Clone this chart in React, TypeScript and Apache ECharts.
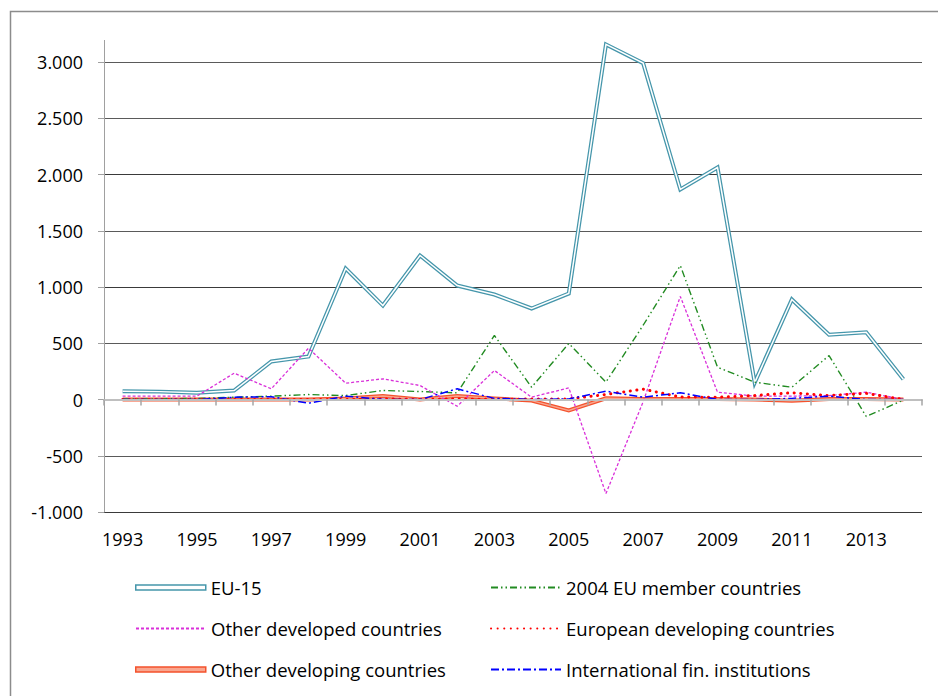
import React, { useEffect, useRef } from 'react';
import * as echarts from 'echarts';

const years = ['1993','1994','1995','1996','1997','1998','1999','2000','2001','2002','2003','2004','2005','2006','2007','2008','2009','2010','2011','2012','2013','2014'];
const eu15 = [74, 70, 60, 80, 338, 382, 1164, 835, 1280, 1013, 933, 809, 942, 3156, 2990, 1867, 2062, 150, 889, 575, 598, 180];
const eu2004 = [5, 5, 10, 20, 30, 44, 35, 80, 71, 59, 569, 109, 498, 154, 660, 1191, 287, 154, 109, 391, -151, -5];
const otherDeveloped = [30, 30, 30, 234, 95, 456, 145, 184, 124, -60, 258, 20, 104, -836, -20, 916, 65, 30, 30, 35, 65, 0];
const europeanDeveloping = [0, 0, 0, 0, 0, 0, 0, 5, 0, 5, 0, 5, 5, 45, 92, 22, 20, 35, 60, 35, 55, 0];
const otherDeveloping = [0, 0, 0, 0, 0, 0, 10, 30, 0, 30, 10, -10, -98, 10, 5, 5, 5, 0, -10, 5, 5, 0];
const intlFin = [0, 0, 0, 20, 25, -33, 30, 0, 0, 95, 10, 0, 5, 74, 20, 60, 0, 0, 10, 30, 0, 0];
const yTicks = { min: -1000, max: 3000, interval: 500 };

const FONT = '"Open Sans", sans-serif';
const FS = 18;
const LFS = 18.5;

function fmt(v: number): string {
  const s = Math.abs(v).toString().replace(/\B(?=(\d{3})+(?!\d))/g, '.');
  return (v < 0 ? '-' : '') + s;
}

const hiddenSymbol = { opacity: 0, color: 'rgba(0,0,0,0)', borderWidth: 0 };

function legendAt(item: any, left: number, top: number, itemHeight = 14) {
  return {
    show: true,
    left,
    top,
    padding: 0,
    orient: 'horizontal',
    itemWidth: 70,
    itemHeight,
    itemGap: 0,
    selectedMode: false,
    textStyle: { fontFamily: FONT, fontSize: LFS, color: '#000' },
    data: [item],
  };
}

export default function App() {
  const ref = useRef<HTMLDivElement>(null);
  useEffect(() => {
    const chart = echarts.init(ref.current as HTMLDivElement, null, { renderer: 'svg' });
    const teal = '#4596ab';
    const orange = '#f4522d';
    const option: any = {
      animation: false,
      backgroundColor: '#fff',
      textStyle: { fontFamily: FONT },
      grid: { left: 104, right: 16, top: 62, bottom: 184, containLabel: false },
      xAxis: [
        {
          type: 'category',
          data: years,
          boundaryGap: true,
          position: 'bottom',
          axisLine: { show: true, onZero: true, lineStyle: { color: '#bfbfbf', width: 2 } },
          axisTick: { show: true, length: 6, lineStyle: { color: '#a6a6a6', width: 1.5 } },
          axisLabel: { show: false },
          splitLine: { show: false },
          z: 3,
        },
        {
          type: 'category',
          data: years,
          boundaryGap: true,
          position: 'bottom',
          axisLine: { show: false, onZero: false },
          axisTick: { show: false },
          axisLabel: { show: true, interval: 1, margin: 18, fontFamily: FONT, fontSize: FS, color: '#000' },
          splitLine: { show: false },
        },
      ],
      yAxis: {
        type: 'value',
        min: yTicks.min,
        max: yTicks.max,
        interval: yTicks.interval,
        axisLine: { show: true, lineStyle: { color: '#a0a0a0', width: 1 } },
        axisTick: { show: true, length: 6, lineStyle: { color: '#a0a0a0' } },
        axisLabel: { margin: 21, fontFamily: FONT, fontSize: FS, color: '#000', formatter: (v: number) => fmt(v) },
        splitLine: {
          show: true,
          lineStyle: {
            color: ['#3a3a3a', '#5a5a5a', '#bfbfbf', '#5a5a5a', '#3a3a3a', '#5a5a5a', '#3a3a3a', '#5a5a5a', '#5a5a5a'],
            width: 1,
          },
        },
      },
      legend: [
        legendAt({ name: 'EU-15', icon: 'rect', itemStyle: { color: '#fff', borderColor: teal, borderWidth: 1.5 } }, 135, 578, 5),
        legendAt({ name: '2004 EU member countries', itemStyle: hiddenSymbol }, 490, 578),
        legendAt({ name: 'Other developed countries', itemStyle: hiddenSymbol }, 135, 619),
        legendAt({ name: 'European developing countries', itemStyle: hiddenSymbol }, 490, 619),
        legendAt({ name: 'Other developing countries', icon: 'rect', itemStyle: { color: '#f9a68f', borderColor: orange, borderWidth: 1.5 } }, 135, 660, 5),
        legendAt({ name: 'International fin. institutions', itemStyle: hiddenSymbol }, 490, 660),
      ],
      graphic: [
        { type: 'rect', silent: true, shape: { x: 10.5, y: 11.5, width: 1000, height: 1000 }, style: { fill: 'none', stroke: '#8c8c8c', lineWidth: 1.5 } },
        { type: 'line', silent: true, shape: { x1: 104.5, y1: 40, x2: 104.5, y2: 62 }, style: { stroke: '#a0a0a0', lineWidth: 1 } },
      ],
      series: [
        {
          name: 'Other developing countries', type: 'line', data: otherDeveloping, symbol: 'none', clip: false,
          lineStyle: { color: orange, width: 4, join: 'miter' }, itemStyle: { color: orange }, z: 2,
        },
        {
          name: 'Other developing inner', type: 'line', data: otherDeveloping, symbol: 'none', clip: false,
          lineStyle: { color: '#f9a68f', width: 1.5, join: 'miter' }, z: 2,
        },
        {
          name: 'EU-15', type: 'line', data: eu15, symbol: 'none', clip: false,
          lineStyle: { color: teal, width: 4, join: 'miter' }, itemStyle: { color: teal }, z: 2,
        },
        {
          name: 'EU-15 inner', type: 'line', data: eu15, symbol: 'none', clip: false,
          lineStyle: { color: '#ffffff', width: 1.5, join: 'miter' }, z: 2,
        },
        {
          name: '2004 EU member countries', type: 'line', data: eu2004, symbol: 'none', clip: false,
          lineStyle: { color: '#228b22', width: 1.4, type: [7, 3, 1.5, 3, 1.5, 3] }, itemStyle: { color: '#228b22' }, z: 2,
        },
        {
          name: 'Other developed countries', type: 'line', data: otherDeveloped, symbol: 'none', clip: false,
          lineStyle: { color: '#d930d9', width: 1.3, type: [3, 2] }, itemStyle: { color: '#d930d9' }, z: 2,
        },
        {
          name: 'European developing countries', type: 'line', data: europeanDeveloping, symbol: 'none', clip: false,
          lineStyle: { color: '#ff0000', width: 3, type: [0.1, 6.5], cap: 'round' }, itemStyle: { color: '#ff0000' }, z: 2,
        },
        {
          name: 'International fin. institutions', type: 'line', data: intlFin, symbol: 'none', clip: false,
          lineStyle: { color: '#0000ff', width: 1.5, type: [8, 3, 2, 3] }, itemStyle: { color: '#0000ff' }, z: 2,
        },
      ],
    };
    chart.setOption(option);
    return () => chart.dispose();
  }, []);
  return <div ref={ref} style={{ position: 'fixed', left: 0, top: 0, width: 938, height: 696, background: '#fff' }} />;
}
